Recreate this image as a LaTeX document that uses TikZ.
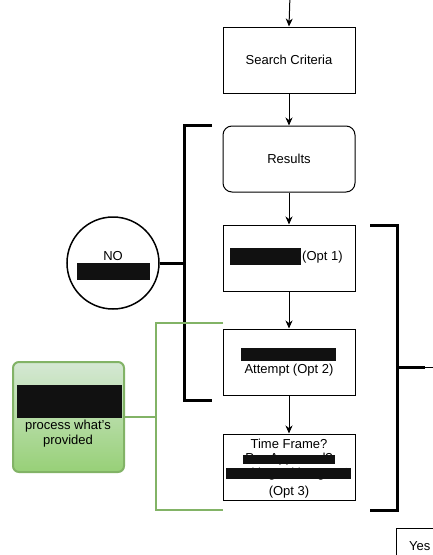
\documentclass[tikz,border=0pt]{standalone}
\usepackage{fontspec}
\setmainfont{Liberation Sans}
\usetikzlibrary{arrows.meta,positioning}
\begin{document}
\begin{tikzpicture}[x=1pt,y=-1pt,
  every node/.style={font=\fontsize{13}{15}\selectfont, inner sep=0pt},
  procbox/.style={draw, line width=1pt, minimum width=132pt, minimum height=66pt, align=center},
  roundbox/.style={procbox, rounded corners=9pt},
  flow/.style={line width=1pt, -{Stealth[length=8pt,width=7pt,inset=2.5pt]}},
  bracket/.style={line width=3pt},
  gbracket/.style={line width=2.5pt, draw=gline},
  redact/.style={fill=redbar, draw=none},
]
\definecolor{gline}{HTML}{82B366}
\definecolor{gtop}{HTML}{D5E8D4}
\definecolor{gbot}{HTML}{97D077}
\definecolor{redbar}{HTML}{111111}
\useasboundingbox (0,0) rectangle (433,555);
\fill[white] (0,0) rectangle (433,555);

% main column
\coordinate (top) at (290,-5);
\node[procbox] (search) at (289,60) {Search Criteria};
\node[roundbox] (results) at (289,159) {Results};
\node[procbox] (opt1) at (289,258) {};
\node[procbox] (opt2) at (289,362) {};
\node[procbox] (opt3) at (289,467) {};

\draw[flow] (top) -- (search.north);
\draw[flow] (search) -- (results);
\draw[flow] (results) -- (opt1);
\draw[flow] (opt1) -- (opt2);
\draw[flow] (opt2) -- (opt3);

% opt1 content
\fill[redact] (230,248) rectangle (301,265);
\node[anchor=west] (o1t) at (302,257) {(Opt 1)};
% opt2 content
\fill[redact] (241,348) rectangle (336,361);
\node (o2t) at (289,370) {Attempt (Opt 2)};
% opt3 content
\node (o3a) at (289,444) {Time Frame?};
\node (o3b) at (289,459) {Pre-Approved?};
\node (o3c) at (289,474) {Working With Agent?};
\node (o3d) at (289,492) {(Opt 3)};
\fill[redact] (243,455) rectangle (335,464);
\fill[redact] (226,468) rectangle (351,479);

% left black bracket with NO circle
\node[draw, circle, line width=1.5pt, minimum size=92pt] (no) at (113,263) {};
\node (notext) at (113,256) {NO};
\fill[redact] (77,263) rectangle (150,280);
\coordinate (lb1) at (212,125);
\coordinate (lb2) at (184,125);
\coordinate (lb3) at (184,400);
\coordinate (lb4) at (212,400);
\coordinate (lbm) at (184,263);
\draw[bracket] (lb1) -- (lb2) -- (lb3) -- (lb4);
\draw[bracket] (no.east) -- (lbm);

% right black bracket
\coordinate (rb1) at (370,225);
\coordinate (rb2) at (397,225);
\coordinate (rb3) at (397,510);
\coordinate (rb4) at (370,510);
\coordinate (rbm) at (397,367);
\coordinate (rbt) at (425,367);
\coordinate (rbe) at (436,367);
\draw[bracket] (rb1) -- (rb2) -- (rb3) -- (rb4);
\draw[bracket] (rbm) -- (rbt);
\draw[line width=0.8pt] (rbt) -- (rbe);

% green box and bracket
\node[draw=gline, line width=2pt, rounded corners=6pt, top color=gtop, bottom color=gbot,
      minimum width=111pt, minimum height=110pt] (green) at (68.5,417) {};
\fill[redact] (17,385) rectangle (122,418);
\node[align=center] (gtext) at (68,434) {process what's\\provided};
\coordinate (gb1) at (223,323);
\coordinate (gb2) at (156,323);
\coordinate (gb3) at (156,510);
\coordinate (gb4) at (223,510);
\coordinate (gbm) at (156,417);
\draw[gbracket] (gb1) -- (gb2) -- (gb3) -- (gb4);
\draw[gbracket] (green.east) -- (gbm);

% Yes box
\node[draw, line width=1pt, minimum width=50pt, minimum height=34pt, anchor=north west] (yes) at (396,528) {};
\node[anchor=west] (yestext) at (409,546) {Yes};
\end{tikzpicture}
\end{document}
